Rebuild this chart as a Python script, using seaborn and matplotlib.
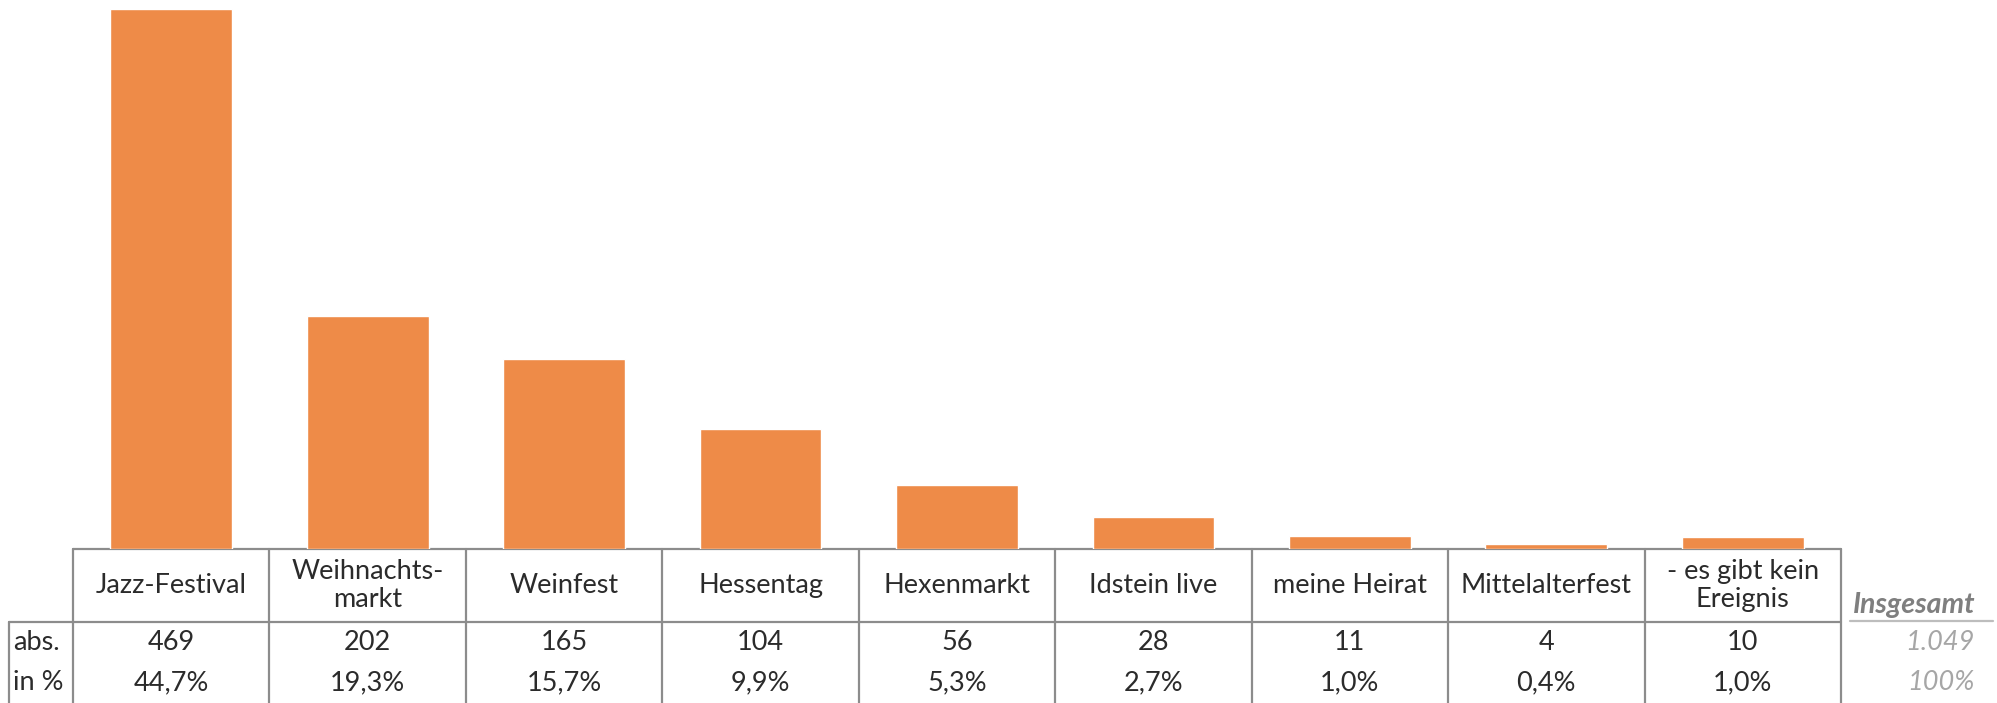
import matplotlib
matplotlib.use("Agg")
import matplotlib.pyplot as plt
import seaborn as sns
import pandas as pd

# ── data ─────────────────────────────────────────────────────────────────────
categories = ["Jazz-Festival", "Weihnachts-\nmarkt", "Weinfest", "Hessentag",
              "Hexenmarkt", "Idstein live", "meine Heirat", "Mittelalterfest",
              "- es gibt kein\nEreignis"]
abs_values = [469, 202, 165, 104, 56, 28, 11, 4, 10]
pct_labels = ["44,7%", "19,3%", "15,7%", "9,9%", "5,3%", "2,7%", "1,0%", "0,4%", "1,0%"]
row_labels = ["abs.", "in %"]
total_label = "Insgesamt"
total_abs = "1.049"
total_pct = "100%"

BAR_COLOR = "#EE8B48"
GRID = "#8C8C8C"
TEXT = "#2b2b2b"
FONT = ["Lato", "DejaVu Sans"]

sns.set_theme(style="white")
plt.rcParams["font.family"] = FONT
plt.rcParams["font.weight"] = "normal"

W, H = 1997, 703
fig = plt.figure(figsize=(W / 100, H / 100), dpi=100)

# pixel geometry of the table
X0, X1 = 73, 1841          # first / last column border
BASE = 549                 # bar baseline = top of table
ROW1 = 622                 # line under header row
LEFT = 9                   # left border of row labels
n = len(categories)
colw = (X1 - X0) / n

# ── bars ─────────────────────────────────────────────────────────────────────
ax = fig.add_axes([X0 / W, (H - BASE) / H, (X1 - X0) / W, BASE / H])
df = pd.DataFrame({"cat": categories, "val": abs_values})
sns.barplot(data=df, x="cat", y="val", color=BAR_COLOR, saturation=1,
            width=0.62, ax=ax)
ax.set_xlim(-0.5, n - 0.5)
ax.set_ylim(0, max(abs_values) * BASE / (BASE - 9))
ax.set_axis_off()

# ── table (pixel coordinates) ────────────────────────────────────────────────
tx = fig.add_axes([0, 0, 1, 1], zorder=-1)
tx.set_xlim(0, W)
tx.set_ylim(H, 0)
tx.set_axis_off()
tx.patch.set_alpha(0)

lw = 1.6
tx.plot([X0, X1], [BASE, BASE], color=GRID, lw=lw)
tx.plot([LEFT, X1], [ROW1, ROW1], color=GRID, lw=lw)
tx.plot([LEFT, LEFT], [ROW1, H], color=GRID, lw=lw)
for i in range(n + 1):
    xb = X0 + i * colw
    tx.plot([xb, xb], [BASE, H], color=GRID, lw=lw)
tx.plot([1850, 1993], [ROW1 - 1, ROW1 - 1], color="#BDBDBD", lw=lw)

fs = 19.5
y_head = (BASE + ROW1) / 2
y_abs, y_pct = 642, 683
for i, (c, a, p) in enumerate(zip(categories, abs_values, pct_labels)):
    xc = X0 + (i + 0.5) * colw
    tx.text(xc, y_head, c, ha="center", va="center", fontsize=fs,
            linespacing=1.15, color=TEXT)
    tx.text(xc, y_abs, str(a), ha="center", va="center", fontsize=fs, color=TEXT)
    tx.text(xc, y_pct, p, ha="center", va="center", fontsize=fs, color=TEXT)

tx.text(LEFT + 4, y_abs, row_labels[0], ha="left", va="center", fontsize=fs, color=TEXT)
tx.text(LEFT + 4, y_pct, row_labels[1], ha="left", va="center", fontsize=fs, color=TEXT)

XR = 1975
tx.text(XR, 605, total_label, ha="right", va="center", fontsize=20.5,
        style="italic", weight="bold", color="#7F7F7F")
tx.text(XR, y_abs, total_abs, ha="right", va="center", fontsize=fs,
        style="italic", color="#A6A6A6")
tx.text(XR, y_pct, total_pct, ha="right", va="center", fontsize=fs,
        style="italic", color="#A6A6A6")

fig.savefig("out.png", dpi=100, facecolor="white")
